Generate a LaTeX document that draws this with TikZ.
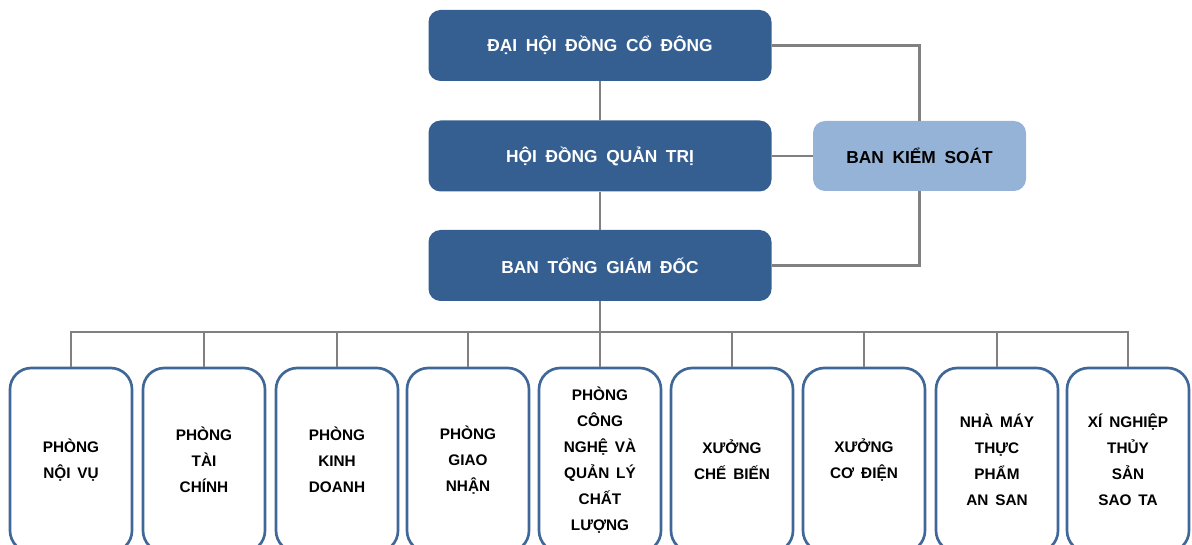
\documentclass[tikz,border=0pt]{standalone}
\usepackage{fontspec}
\setmainfont{Liberation Sans}
\definecolor{boardblue}{HTML}{365F91}
\definecolor{auditblue}{HTML}{95B3D7}
\definecolor{deptedge}{HTML}{3F6797}
\definecolor{linkgray}{HTML}{808080}
\newcommand{\widewords}[1]{\spaceskip=#1\relax}

\begin{document}
\begin{tikzpicture}[x=0.75pt,y=-0.75pt,
  board/.style={fill=boardblue,draw=none,rounded corners=9pt,minimum width=257.25pt,
    minimum height=53.25pt,text=white,font=\fontsize{13}{16}\selectfont\bfseries\widewords{0.5em}},
  audit/.style={fill=auditblue,draw=none,rounded corners=9pt,minimum width=159.75pt,
    minimum height=52.5pt,text=black,font=\fontsize{13}{16}\selectfont\bfseries\widewords{0.5em}},
  dept/.style={draw=deptedge,line width=2pt,fill=white,rounded corners=16pt,minimum width=91.5pt,
    minimum height=138pt,align=center,font=\fontsize{11.5}{19.5}\selectfont\bfseries\widewords{0.45em}},
  link/.style={linkgray,line width=2pt}]
\useasboundingbox (0,0) rectangle (1192,545);
\node[board] (dhcd) at (600,45.5) {ĐẠI HỘI ĐỒNG CỔ ĐÔNG};
\node[board] (hdqt) at (600,156) {HỘI ĐỒNG QUẢN TRỊ};
\node[board] (btgd) at (600,265.5) {BAN TỔNG GIÁM ĐỐC};
\node[audit] (bks) at (919.5,156) {BAN KIỂM SOÁT};
\coordinate (bus) at (600,332);
\foreach \i/\x/\txt in {1/71/{PHÒNG\\NỘI VỤ},2/204/{PHÒNG\\TÀI\\CHÍNH},3/337/{PHÒNG\\KINH\\DOANH},
  4/468/{PHÒNG\\GIAO\\NHẬN},5/600/{PHÒNG\\CÔNG\\NGHỆ VÀ\\QUẢN LÝ\\CHẤT\\LƯỢNG},
  6/732/{XƯỞNG\\CHẾ BIẾN},7/864/{XƯỞNG\\CƠ ĐIỆN},8/997/{NHÀ MÁY\\THỰC\\PHẨM\\AN SAN},
  9/1128/{XÍ NGHIỆP\\THỦY\\SẢN\\SAO TA}}
  \node[dept] (p\i) at (\x,460) {\txt};
\draw[link] (dhcd.south) -- (hdqt.north);
\draw[link] (hdqt.south) -- (btgd.north);
\draw[link] (dhcd.east) -| (bks.north);
\draw[link] (hdqt.east) -- (bks.west);
\draw[link] (bks.south) |- (btgd.east);
\draw[link] (btgd.south) -- (p5.north);
\draw[link] (p1.north) |- (bus) -| (p9.north);
\foreach \i in {2,3,4,6,7,8}
  \draw[link] (p\i.north) -- (p\i.north |- bus);
\end{tikzpicture}
\end{document}
